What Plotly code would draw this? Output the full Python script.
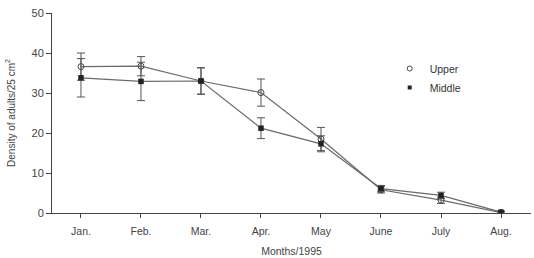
import plotly.graph_objects as go

months = ["Jan.", "Feb.", "Mar.", "Apr.", "May", "June", "July", "Aug."]
upper = [36.6, 36.7, 33.0, 30.1, 18.5, 5.8, 3.2, 0.1]
upper_err = [3.4, 2.4, 3.3, 3.4, 2.9, 0.8, 0.8, 0.3]
middle = [33.8, 32.9, 33.0, 21.2, 17.3, 6.1, 4.4, 0.2]
middle_err = [4.8, 4.8, 3.3, 2.6, 2.0, 0.8, 0.8, 0.3]

line_col = "#6a6a6a"
fig = go.Figure()
fig.add_trace(go.Scatter(
    x=months, y=upper, mode="lines+markers", showlegend=False,
    line=dict(color=line_col, width=1.2),
    marker=dict(symbol="circle-open", size=6, color="#444", line=dict(width=1)),
    error_y=dict(type="data", array=upper_err, color="#555", thickness=1, width=4),
))
fig.add_trace(go.Scatter(
    x=months, y=middle, mode="lines+markers", showlegend=False,
    line=dict(color=line_col, width=1.2),
    marker=dict(symbol="square", size=5.5, color="#222"),
    error_y=dict(type="data", array=middle_err, color="#555", thickness=1, width=4),
))
fig.add_trace(go.Scatter(x=[None], y=[None], mode="markers", name="Upper",
                         marker=dict(symbol="circle-open", size=5, color="#444", line=dict(width=1))))
fig.add_trace(go.Scatter(x=[None], y=[None], mode="markers", name="Middle",
                         marker=dict(symbol="square", size=4, color="#222")))

font = dict(family="Liberation Sans, Arial, sans-serif", size=10, color="#444")
fig.update_layout(
    width=534, height=258,
    margin=dict(l=52, r=3, t=13, b=45),
    plot_bgcolor="white", paper_bgcolor="white",
    font=font,
    legend=dict(x=0.705, y=0.795, xanchor="left", yanchor="top",
                font=dict(size=10.5, color="#333"), bgcolor="rgba(0,0,0,0)",
                itemsizing="trace", tracegroupgap=0),
    xaxis=dict(
        type="category", range=[-0.483, 7.5],
        showline=True, linecolor="#444", linewidth=1,
        ticks="outside", ticklen=4, tickcolor="#444",
        ticklabelstandoff=4,
        showgrid=False, zeroline=False,
        tickfont=dict(size=10.5, color="#444"),
        title=dict(text="Months/1995", font=dict(size=10.5, color="#444"), standoff=12),
    ),
    yaxis=dict(
        range=[0, 50], dtick=10,
        showline=True, linecolor="#444", linewidth=1,
        ticks="outside", ticklen=5, tickcolor="#444",
        showgrid=False, zeroline=False,
        tickfont=dict(size=11, color="#444"),
        title=dict(text="Density of adults/25 cm<sup>2</sup>", font=dict(size=10, color="#444"), standoff=14),
    ),
)
fig.write_html("out.html")
